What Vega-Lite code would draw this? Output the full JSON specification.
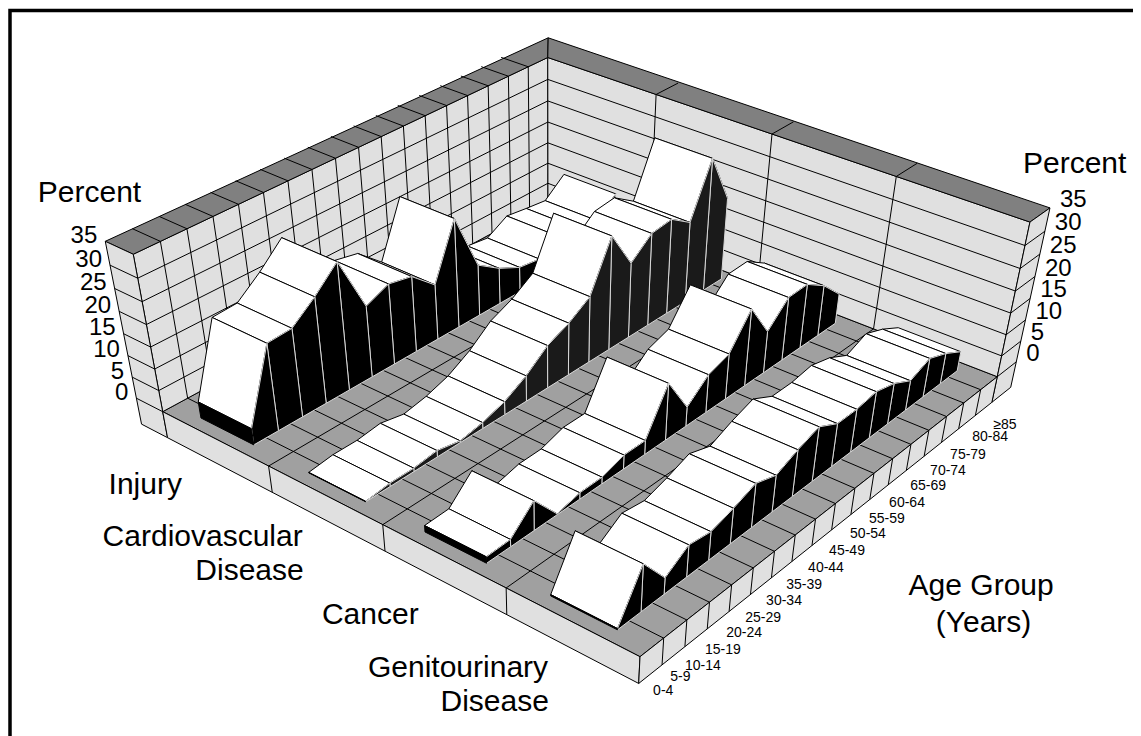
{"$schema":"https://vega.github.io/schema/vega-lite/v6.json","width":1141,"height":736,"padding":0,"autosize":{"type":"none"},"background":"white","config":{"view":{"stroke":null}},
"datasets":{
"ribbons":[
{"disease":"Injury","k":3,"i":17,"percent":10.8},{"disease":"Injury","k":3,"i":16,"percent":6.8},{"disease":"Injury","k":3,"i":15,"percent":7.4},{"disease":"Injury","k":3,"i":14,"percent":8.1},{"disease":"Injury","k":3,"i":13,"percent":5.3},{"disease":"Injury","k":3,"i":12,"percent":6.0},{"disease":"Injury","k":3,"i":11,"percent":8.5},{"disease":"Injury","k":3,"i":10,"percent":12.0},{"disease":"Injury","k":3,"i":9,"percent":25.3},{"disease":"Injury","k":3,"i":8,"percent":12.9},{"disease":"Injury","k":3,"i":7,"percent":17.6},{"disease":"Injury","k":3,"i":6,"percent":18.7},{"disease":"Injury","k":3,"i":5,"percent":16.5},{"disease":"Injury","k":3,"i":4,"percent":29.1},{"disease":"Injury","k":3,"i":3,"percent":24.3},{"disease":"Injury","k":3,"i":2,"percent":20.3},{"disease":"Injury","k":3,"i":1,"percent":20.0},{"disease":"Injury","k":3,"i":0,"percent":3.8},
{"disease":"Cardiovascular Disease","k":2,"i":17,"percent":19.4},{"disease":"Cardiovascular Disease","k":2,"i":16,"percent":30.9},{"disease":"Cardiovascular Disease","k":2,"i":15,"percent":18.9},{"disease":"Cardiovascular Disease","k":2,"i":14,"percent":22.2},{"disease":"Cardiovascular Disease","k":2,"i":13,"percent":21.6},{"disease":"Cardiovascular Disease","k":2,"i":12,"percent":17.5},{"disease":"Cardiovascular Disease","k":2,"i":11,"percent":26.3},{"disease":"Cardiovascular Disease","k":2,"i":10,"percent":15.4},{"disease":"Cardiovascular Disease","k":2,"i":9,"percent":12.2},{"disease":"Cardiovascular Disease","k":2,"i":8,"percent":10.0},{"disease":"Cardiovascular Disease","k":2,"i":7,"percent":6.0},{"disease":"Cardiovascular Disease","k":2,"i":6,"percent":3.1},{"disease":"Cardiovascular Disease","k":2,"i":5,"percent":1.4},{"disease":"Cardiovascular Disease","k":2,"i":4,"percent":0.4},{"disease":"Cardiovascular Disease","k":2,"i":3,"percent":1.5},{"disease":"Cardiovascular Disease","k":2,"i":2,"percent":0.8},{"disease":"Cardiovascular Disease","k":2,"i":1,"percent":0.8},{"disease":"Cardiovascular Disease","k":2,"i":0,"percent":0.1},
{"disease":"Cancer","k":1,"i":17,"percent":7.1},{"disease":"Cancer","k":1,"i":16,"percent":11.9},{"disease":"Cancer","k":1,"i":15,"percent":15.0},{"disease":"Cancer","k":1,"i":14,"percent":14.8},{"disease":"Cancer","k":1,"i":13,"percent":9.8},{"disease":"Cancer","k":1,"i":12,"percent":17.9},{"disease":"Cancer","k":1,"i":11,"percent":10.6},{"disease":"Cancer","k":1,"i":10,"percent":8.9},{"disease":"Cancer","k":1,"i":9,"percent":4.5},{"disease":"Cancer","k":1,"i":8,"percent":13.2},{"disease":"Cancer","k":1,"i":7,"percent":3.3},{"disease":"Cancer","k":1,"i":6,"percent":3.3},{"disease":"Cancer","k":1,"i":5,"percent":1.6},{"disease":"Cancer","k":1,"i":4,"percent":1.5},{"disease":"Cancer","k":1,"i":3,"percent":0.2},{"disease":"Cancer","k":1,"i":2,"percent":6.9},{"disease":"Cancer","k":1,"i":1,"percent":1.7},{"disease":"Cancer","k":1,"i":0,"percent":1.5},
{"disease":"Genitourinary Disease","k":0,"i":17,"percent":4.6},{"disease":"Genitourinary Disease","k":0,"i":16,"percent":7.2},{"disease":"Genitourinary Disease","k":0,"i":15,"percent":9.1},{"disease":"Genitourinary Disease","k":0,"i":14,"percent":7.0},{"disease":"Genitourinary Disease","k":0,"i":13,"percent":9.5},{"disease":"Genitourinary Disease","k":0,"i":12,"percent":10.8},{"disease":"Genitourinary Disease","k":0,"i":11,"percent":10.0},{"disease":"Genitourinary Disease","k":0,"i":10,"percent":10.0},{"disease":"Genitourinary Disease","k":0,"i":9,"percent":12.6},{"disease":"Genitourinary Disease","k":0,"i":8,"percent":10.8},{"disease":"Genitourinary Disease","k":0,"i":7,"percent":8.5},{"disease":"Genitourinary Disease","k":0,"i":6,"percent":10.2},{"disease":"Genitourinary Disease","k":0,"i":5,"percent":8.2},{"disease":"Genitourinary Disease","k":0,"i":4,"percent":6.6},{"disease":"Genitourinary Disease","k":0,"i":3,"percent":7.4},{"disease":"Genitourinary Disease","k":0,"i":2,"percent":3.8},{"disease":"Genitourinary Disease","k":0,"i":1,"percent":10.9},{"disease":"Genitourinary Disease","k":0,"i":0,"percent":0.3}
],
"box":[
{"id":1,"part":"floor","a":[0,18,18,0,0],"d":[0,0,4,4,0],"z":[0,0,0,0,0]},
{"id":2,"part":"wall","a":[0,18,18,0,0],"d":[4,4,4,4,4],"z":[0,0,35,35,0]},
{"id":3,"part":"wall","a":[18,18,18,18,18],"d":[0,4,4,0,0],"z":[0,0,35,35,0]},
{"id":4,"part":"cap","a":[0,18,19.28,0,0],"d":[4,4,4.232,4.26,4],"z":[35,35,35,35,35]},
{"id":5,"part":"cap","a":[18,19.17,19.28,18,18],"d":[0,0,4.232,4,0],"z":[35,35,35,35,35]},
{"id":6,"part":"wall","a":[0,0,0,0,0],"d":[4,4.26,4.26,4,4],"z":[-6.3,-6.3,35,35,-6.3]},
{"id":7,"part":"wall","a":[18,19.17,19.17,18,18],"d":[0,0,0,0,0],"z":[-6.3,-6.3,35,35,-6.3]},
{"id":8,"part":"wall","a":[0,0,0,0,0],"d":[0,4,4,0,0],"z":[-6.3,-6.3,0,0,-6.3]},
{"id":9,"part":"wall","a":[0,18,18,0,0],"d":[0,0,0,0,0],"z":[-6.3,-6.3,0,0,-6.3]},
{"id":101,"part":"line","a":[1,1],"d":[0,4],"z":[0,0]},{"id":102,"part":"line","a":[2,2],"d":[0,4],"z":[0,0]},{"id":103,"part":"line","a":[3,3],"d":[0,4],"z":[0,0]},{"id":104,"part":"line","a":[4,4],"d":[0,4],"z":[0,0]},{"id":105,"part":"line","a":[5,5],"d":[0,4],"z":[0,0]},{"id":106,"part":"line","a":[6,6],"d":[0,4],"z":[0,0]},{"id":107,"part":"line","a":[7,7],"d":[0,4],"z":[0,0]},{"id":108,"part":"line","a":[8,8],"d":[0,4],"z":[0,0]},{"id":109,"part":"line","a":[9,9],"d":[0,4],"z":[0,0]},{"id":110,"part":"line","a":[10,10],"d":[0,4],"z":[0,0]},{"id":111,"part":"line","a":[11,11],"d":[0,4],"z":[0,0]},{"id":112,"part":"line","a":[12,12],"d":[0,4],"z":[0,0]},{"id":113,"part":"line","a":[13,13],"d":[0,4],"z":[0,0]},{"id":114,"part":"line","a":[14,14],"d":[0,4],"z":[0,0]},{"id":115,"part":"line","a":[15,15],"d":[0,4],"z":[0,0]},{"id":116,"part":"line","a":[16,16],"d":[0,4],"z":[0,0]},{"id":117,"part":"line","a":[17,17],"d":[0,4],"z":[0,0]},
{"id":121,"part":"line","a":[0,18],"d":[1,1],"z":[0,0]},{"id":122,"part":"line","a":[0,18],"d":[2,2],"z":[0,0]},{"id":123,"part":"line","a":[0,18],"d":[3,3],"z":[0,0]},
{"id":201,"part":"line","a":[1,1],"d":[4,4],"z":[0,35]},{"id":202,"part":"line","a":[2,2],"d":[4,4],"z":[0,35]},{"id":203,"part":"line","a":[3,3],"d":[4,4],"z":[0,35]},{"id":204,"part":"line","a":[4,4],"d":[4,4],"z":[0,35]},{"id":205,"part":"line","a":[5,5],"d":[4,4],"z":[0,35]},{"id":206,"part":"line","a":[6,6],"d":[4,4],"z":[0,35]},{"id":207,"part":"line","a":[7,7],"d":[4,4],"z":[0,35]},{"id":208,"part":"line","a":[8,8],"d":[4,4],"z":[0,35]},{"id":209,"part":"line","a":[9,9],"d":[4,4],"z":[0,35]},{"id":210,"part":"line","a":[10,10],"d":[4,4],"z":[0,35]},{"id":211,"part":"line","a":[11,11],"d":[4,4],"z":[0,35]},{"id":212,"part":"line","a":[12,12],"d":[4,4],"z":[0,35]},{"id":213,"part":"line","a":[13,13],"d":[4,4],"z":[0,35]},{"id":214,"part":"line","a":[14,14],"d":[4,4],"z":[0,35]},{"id":215,"part":"line","a":[15,15],"d":[4,4],"z":[0,35]},{"id":216,"part":"line","a":[16,16],"d":[4,4],"z":[0,35]},{"id":217,"part":"line","a":[17,17],"d":[4,4],"z":[0,35]},
{"id":221,"part":"line","a":[0,18],"d":[4,4],"z":[5,5]},{"id":222,"part":"line","a":[0,18],"d":[4,4],"z":[10,10]},{"id":223,"part":"line","a":[0,18],"d":[4,4],"z":[15,15]},{"id":224,"part":"line","a":[0,18],"d":[4,4],"z":[20,20]},{"id":225,"part":"line","a":[0,18],"d":[4,4],"z":[25,25]},{"id":226,"part":"line","a":[0,18],"d":[4,4],"z":[30,30]},
{"id":231,"part":"line","a":[18,18],"d":[1,1],"z":[0,35]},{"id":232,"part":"line","a":[18,18],"d":[2,2],"z":[0,35]},{"id":233,"part":"line","a":[18,18],"d":[3,3],"z":[0,35]},
{"id":241,"part":"line","a":[18,18],"d":[0,4],"z":[5,5]},{"id":242,"part":"line","a":[18,18],"d":[0,4],"z":[10,10]},{"id":243,"part":"line","a":[18,18],"d":[0,4],"z":[15,15]},{"id":244,"part":"line","a":[18,18],"d":[0,4],"z":[20,20]},{"id":245,"part":"line","a":[18,18],"d":[0,4],"z":[25,25]},{"id":246,"part":"line","a":[18,18],"d":[0,4],"z":[30,30]},
{"id":301,"part":"line","a":[1,1],"d":[4,4.26],"z":[35,35]},{"id":302,"part":"line","a":[2,2],"d":[4,4.26],"z":[35,35]},{"id":303,"part":"line","a":[3,3],"d":[4,4.26],"z":[35,35]},{"id":304,"part":"line","a":[4,4],"d":[4,4.26],"z":[35,35]},{"id":305,"part":"line","a":[5,5],"d":[4,4.26],"z":[35,35]},{"id":306,"part":"line","a":[6,6],"d":[4,4.26],"z":[35,35]},{"id":307,"part":"line","a":[7,7],"d":[4,4.26],"z":[35,35]},{"id":308,"part":"line","a":[8,8],"d":[4,4.26],"z":[35,35]},{"id":309,"part":"line","a":[9,9],"d":[4,4.26],"z":[35,35]},{"id":310,"part":"line","a":[10,10],"d":[4,4.26],"z":[35,35]},{"id":311,"part":"line","a":[11,11],"d":[4,4.26],"z":[35,35]},{"id":312,"part":"line","a":[12,12],"d":[4,4.26],"z":[35,35]},{"id":313,"part":"line","a":[13,13],"d":[4,4.26],"z":[35,35]},{"id":314,"part":"line","a":[14,14],"d":[4,4.26],"z":[35,35]},{"id":315,"part":"line","a":[15,15],"d":[4,4.26],"z":[35,35]},{"id":316,"part":"line","a":[16,16],"d":[4,4.26],"z":[35,35]},{"id":317,"part":"line","a":[17,17],"d":[4,4.26],"z":[35,35]},
{"id":321,"part":"line","a":[18,19.17],"d":[1,1],"z":[35,35]},{"id":322,"part":"line","a":[18,19.17],"d":[2,2],"z":[35,35]},{"id":323,"part":"line","a":[18,19.17],"d":[3,3],"z":[35,35]},
{"id":330,"part":"line","a":[0,0],"d":[4,4.26],"z":[0,0]},{"id":331,"part":"line","a":[0,0],"d":[4,4.26],"z":[5,5]},{"id":332,"part":"line","a":[0,0],"d":[4,4.26],"z":[10,10]},{"id":333,"part":"line","a":[0,0],"d":[4,4.26],"z":[15,15]},{"id":334,"part":"line","a":[0,0],"d":[4,4.26],"z":[20,20]},{"id":335,"part":"line","a":[0,0],"d":[4,4.26],"z":[25,25]},{"id":336,"part":"line","a":[0,0],"d":[4,4.26],"z":[30,30]},
{"id":340,"part":"line","a":[18,19.17],"d":[0,0],"z":[0,0]},{"id":341,"part":"line","a":[18,19.17],"d":[0,0],"z":[5,5]},{"id":342,"part":"line","a":[18,19.17],"d":[0,0],"z":[10,10]},{"id":343,"part":"line","a":[18,19.17],"d":[0,0],"z":[15,15]},{"id":344,"part":"line","a":[18,19.17],"d":[0,0],"z":[20,20]},{"id":345,"part":"line","a":[18,19.17],"d":[0,0],"z":[25,25]},{"id":346,"part":"line","a":[18,19.17],"d":[0,0],"z":[30,30]},
{"id":401,"part":"line","a":[1,1],"d":[0,0],"z":[-6.3,0]},{"id":402,"part":"line","a":[2,2],"d":[0,0],"z":[-6.3,0]},{"id":403,"part":"line","a":[3,3],"d":[0,0],"z":[-6.3,0]},{"id":404,"part":"line","a":[4,4],"d":[0,0],"z":[-6.3,0]},{"id":405,"part":"line","a":[5,5],"d":[0,0],"z":[-6.3,0]},{"id":406,"part":"line","a":[6,6],"d":[0,0],"z":[-6.3,0]},{"id":407,"part":"line","a":[7,7],"d":[0,0],"z":[-6.3,0]},{"id":408,"part":"line","a":[8,8],"d":[0,0],"z":[-6.3,0]},{"id":409,"part":"line","a":[9,9],"d":[0,0],"z":[-6.3,0]},{"id":410,"part":"line","a":[10,10],"d":[0,0],"z":[-6.3,0]},{"id":411,"part":"line","a":[11,11],"d":[0,0],"z":[-6.3,0]},{"id":412,"part":"line","a":[12,12],"d":[0,0],"z":[-6.3,0]},{"id":413,"part":"line","a":[13,13],"d":[0,0],"z":[-6.3,0]},{"id":414,"part":"line","a":[14,14],"d":[0,0],"z":[-6.3,0]},{"id":415,"part":"line","a":[15,15],"d":[0,0],"z":[-6.3,0]},{"id":416,"part":"line","a":[16,16],"d":[0,0],"z":[-6.3,0]},{"id":417,"part":"line","a":[17,17],"d":[0,0],"z":[-6.3,0]},
{"id":421,"part":"line","a":[0,0],"d":[1,1],"z":[-6.3,0]},{"id":422,"part":"line","a":[0,0],"d":[2,2],"z":[-6.3,0]},{"id":423,"part":"line","a":[0,0],"d":[3,3],"z":[-6.3,0]}
]
},
"encoding":{"x":{"field":"px","type":"quantitative","axis":null,"scale":{"domain":[0,1141],"range":[0,1141],"zero":false,"nice":false}},"y":{"field":"py","type":"quantitative","axis":null,"scale":{"domain":[0,736],"range":[0,736],"zero":false,"nice":false}}},
"layer":[
{"data":{"name":"box"},
"transform":[{"flatten":["a","d","z"]},
{"calculate":"1+0.2073*datum.a/18+0.1691*datum.d/4-0.0824*datum.z/35","as":"w"},
{"calculate":"(564*datum.a/18-449.8*datum.d/4+640-45.4*datum.z/35)/datum.w","as":"px"},
{"calculate":"(-201.9*datum.a/18-175.4*datum.d/4+656.7-205*datum.z/35)/datum.w","as":"py"}],
"mark":{"type":"line","stroke":"#000","strokeWidth":1,"clip":false,"strokeJoin":"miter"},
"encoding":{"detail":{"field":"id"},"order":{"value":null},"fill":{"field":"part","type":"nominal","legend":null,"scale":{"domain":["floor","wall","cap","line","top","side","sideDark","front"],"range":["#a0a0a0","#e0e0e0","#808080","#000000","#ffffff","#000000","#1a1a1a","#000000"]}}}},
{"data":{"name":"ribbons"},
"transform":[
{"window":[{"op":"lead","field":"percent","as":"next"}],"groupby":["disease"],"sort":[{"field":"i","order":"ascending"}]},
{"calculate":"[0,1,2,3,0,10,11,12,13,10,20,21,22,23,20]","as":"c"},
{"flatten":["c"]},
{"calculate":"floor(datum.c/10)","as":"face"},
{"calculate":"datum.c%10","as":"v"},
{"filter":"datum.face==2 ? datum.i==0 : datum.next!=null"},
{"calculate":"datum.face==2 ? datum.i+0.5 : ((datum.v==1||datum.v==2) ? datum.i+1.5 : datum.i+0.5)","as":"a"},
{"calculate":"datum.k+((datum.face==0&&datum.v>=2)||(datum.face==2&&(datum.v==1||datum.v==2)) ? 0.75 : 0.25)","as":"d"},
{"calculate":"datum.face==0 ? ((datum.v==1||datum.v==2) ? datum.next : datum.percent) : datum.face==1 ? (datum.v==1 ? datum.next : datum.v==0 ? datum.percent : 0) : (datum.v>=2 ? datum.percent : 0)","as":"z"},
{"calculate":"datum.k*1000+datum.i*10+datum.face","as":"poly"},
{"calculate":"datum.face==0 ? 'top' : datum.face==2 ? 'front' : datum.k==2 ? 'sideDark' : 'side'","as":"kind"},
{"calculate":"1+0.2073*datum.a/18+0.1691*datum.d/4-0.0824*datum.z/35","as":"w"},
{"calculate":"(564*datum.a/18-449.8*datum.d/4+640-45.4*datum.z/35)/datum.w","as":"px"},
{"calculate":"(-201.9*datum.a/18-175.4*datum.d/4+656.7-205*datum.z/35)/datum.w","as":"py"}],
"mark":{"type":"line","strokeWidth":1,"clip":false,"strokeJoin":"miter"},
"encoding":{"detail":{"field":"poly"},"order":{"value":null},
"fill":{"field":"kind","type":"nominal","legend":null},
"stroke":{"field":"kind","type":"nominal","legend":null,"scale":{"domain":["top","side","sideDark","front"],"range":["#000000","#d8d8d8","#d8d8d8","#000000"]}}}},
{"data":{"values":[{"t":"0","z":0},{"t":"5","z":5},{"t":"10","z":10},{"t":"15","z":15},{"t":"20","z":20},{"t":"25","z":25},{"t":"30","z":30},{"t":"35","z":35}]},
"transform":[{"calculate":"0","as":"a"},{"calculate":"4.26","as":"d"},
{"calculate":"1+0.2073*datum.a/18+0.1691*datum.d/4-0.0824*datum.z/35","as":"w"},
{"calculate":"(564*datum.a/18-449.8*datum.d/4+640-45.4*datum.z/35)/datum.w","as":"px"},
{"calculate":"(-201.9*datum.a/18-175.4*datum.d/4+656.7-205*datum.z/35)/datum.w","as":"py"}],
"mark":{"type":"text","font":"Liberation Sans","fontSize":24,"align":"right","baseline":"middle","dx":-8,"dy":-5.5,"color":"#000"},
"encoding":{"text":{"field":"t"}}},
{"data":{"values":[{"t":"0","z":0},{"t":"5","z":5},{"t":"10","z":10},{"t":"15","z":15},{"t":"20","z":20},{"t":"25","z":25},{"t":"30","z":30},{"t":"35","z":35}]},
"transform":[{"calculate":"19.17","as":"a"},{"calculate":"0","as":"d"},
{"calculate":"1+0.2073*datum.a/18+0.1691*datum.d/4-0.0824*datum.z/35","as":"w"},
{"calculate":"(564*datum.a/18-449.8*datum.d/4+640-45.4*datum.z/35)/datum.w","as":"px"},
{"calculate":"(-201.9*datum.a/18-175.4*datum.d/4+656.7-205*datum.z/35)/datum.w","as":"py"}],
"mark":{"type":"text","font":"Liberation Sans","fontSize":24,"align":"left","baseline":"middle","dx":10,"dy":-8,"color":"#000"},
"encoding":{"text":{"field":"t"}}},
{"data":{"values":[{"t":"Percent","a":-0.2,"d":4.26,"z":45.4},{"t":"Percent","a":19.17,"d":-0.1,"z":45},{"t":"Age Group","a":9.75,"d":-1.0,"z":-8},{"t":"(Years)","a":8.34,"d":-1.2,"z":-8}]},
"transform":[
{"calculate":"1+0.2073*datum.a/18+0.1691*datum.d/4-0.0824*datum.z/35","as":"w"},
{"calculate":"(564*datum.a/18-449.8*datum.d/4+640-45.4*datum.z/35)/datum.w","as":"px"},
{"calculate":"(-201.9*datum.a/18-175.4*datum.d/4+656.7-205*datum.z/35)/datum.w","as":"py"}],
"mark":{"type":"text","font":"Liberation Sans","fontSize":30,"align":"center","baseline":"middle","color":"#000"},
"encoding":{"text":{"field":"t"}}},
{"data":{"values":[{"t":"Injury","a":-1.43,"d":3.51,"z":-6.3},{"t":"Cardiovascular","a":-1,"d":2.5,"z":-6.3},{"t":"Disease","a":-2.13,"d":2.24,"z":-6.3},{"t":"Cancer","a":-1.55,"d":1.4,"z":-6.3},{"t":"Genitourinary","a":-1.02,"d":0.49,"z":-6.3},{"t":"Disease","a":-2.07,"d":0.29,"z":-6.3}]},
"transform":[
{"calculate":"1+0.2073*datum.a/18+0.1691*datum.d/4-0.0824*datum.z/35","as":"w"},
{"calculate":"(564*datum.a/18-449.8*datum.d/4+640-45.4*datum.z/35)/datum.w","as":"px"},
{"calculate":"(-201.9*datum.a/18-175.4*datum.d/4+656.7-205*datum.z/35)/datum.w","as":"py"}],
"mark":{"type":"text","font":"Liberation Sans","fontSize":30,"align":"right","baseline":"middle","color":"#000"},
"encoding":{"text":{"field":"t"}}},
{"data":{"values":[{"t":"0-4","a":0.05,"z":-4.7},{"t":"5-9","a":0.78,"z":-4.7},{"t":"10-14","a":1.78,"z":-6.3},{"t":"15-19","a":2.67,"z":-6.3},{"t":"20-24","a":3.63,"z":-6.3},{"t":"25-29","a":4.51,"z":-6.3},{"t":"30-34","a":5.5,"z":-6.3},{"t":"35-39","a":6.47,"z":-6.3},{"t":"40-44","a":7.55,"z":-6.3},{"t":"45-49","a":8.61,"z":-6.3},{"t":"50-54","a":9.69,"z":-6.3},{"t":"55-59","a":10.69,"z":-6.3},{"t":"60-64","a":11.77,"z":-6.3},{"t":"65-69","a":12.93,"z":-6.3},{"t":"70-74","a":14.05,"z":-6.3},{"t":"75-79","a":15.2,"z":-6.3},{"t":"80-84","a":16.5,"z":-6.3},{"t":"≥85","a":17.4,"z":-6.3}]},
"transform":[{"calculate":"0","as":"d"},
{"calculate":"1+0.2073*datum.a/18+0.1691*datum.d/4-0.0824*datum.z/35","as":"w"},
{"calculate":"(564*datum.a/18-449.8*datum.d/4+640-45.4*datum.z/35)/datum.w","as":"px"},
{"calculate":"(-201.9*datum.a/18-175.4*datum.d/4+656.7-205*datum.z/35)/datum.w","as":"py"}],
"mark":{"type":"text","font":"Liberation Sans","fontSize":14,"align":"center","baseline":"middle","dx":23,"dy":15,"color":"#000"},
"encoding":{"text":{"field":"t"}}},
{"data":{"values":[{"px":10,"py":736},{"px":10,"py":10.5},{"px":1133,"py":10.5}]},"mark":{"type":"line","stroke":"#000","strokeWidth":3.5,"clip":false,"strokeJoin":"miter"},"encoding":{"order":{"value":null}}}
]}
